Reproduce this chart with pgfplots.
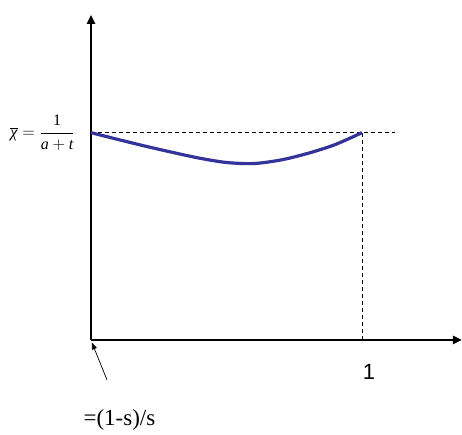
\documentclass[border=0pt]{standalone}
\usepackage{pgfplots}
\pgfplotsset{compat=1.18}
\usepackage{fontspec}
\setmainfont{Liberation Serif}
\newfontfamily\arialfont{Liberation Sans}
\usetikzlibrary{arrows.meta}
\definecolor{curveblue}{RGB}{51,51,153}

\begin{document}
\begin{tikzpicture}
\begin{axis}[
  scale only axis,
  width=371pt, height=325pt,
  xmin=0, xmax=1.369,
  ymin=0, ymax=1.568,
  axis lines=left,
  axis line style={line width=2.4pt, -{Triangle[length=9pt,width=8pt]}},
  xtick=\empty, ytick=\empty,
  clip=false,
]
  % guide lines at the level of the mean and at s = 1
  \addplot[black, line width=0.8pt, dash pattern=on 4pt off 3pt]
    coordinates {(0,1) (1.122,1)};
  \addplot[black, line width=0.8pt, dash pattern=on 4pt off 3pt]
    coordinates {(1,0) (1,1)};

  % the curve
  \addplot[curveblue, line width=3.2pt, smooth]
    coordinates {
      (0.0,1.000) (0.1,0.967) (0.2,0.935) (0.3,0.905) (0.4,0.877)
      (0.5,0.856) (0.6,0.851) (0.7,0.868) (0.8,0.900) (0.9,0.942)
      (1.0,1.000)
    };

  % labels
  \node[anchor=east, inner sep=0pt, font=\fontsize{16}{18}\selectfont]
    at (axis cs:-0.06,1.0)
    {$\displaystyle\overline{\mbox{\itshape χ}}=
      \frac{\mbox{1}}{\mbox{\itshape a}+\mbox{\itshape t}}$};
  \node[inner sep=0pt, font=\arialfont\fontsize{22}{24}\selectfont]
    at (axis cs:1.026,-0.154) {1};
  \node[inner sep=0pt, font=\fontsize{23}{25}\selectfont]
    at (axis cs:0.105,-0.386) {=(1-s)/s};
  \draw[-{Triangle[length=7pt,width=5pt]}, line width=0.7pt]
    (axis cs:0.059,-0.193) -- (axis cs:0.003,-0.012);

  \coordinate (bl) at (axis cs:-0.3358,-0.458);
  \coordinate (tr) at (axis cs:1.369,1.640);
\end{axis}
\pgfresetboundingbox
\path (bl) rectangle (tr);
\end{tikzpicture}
\end{document}
